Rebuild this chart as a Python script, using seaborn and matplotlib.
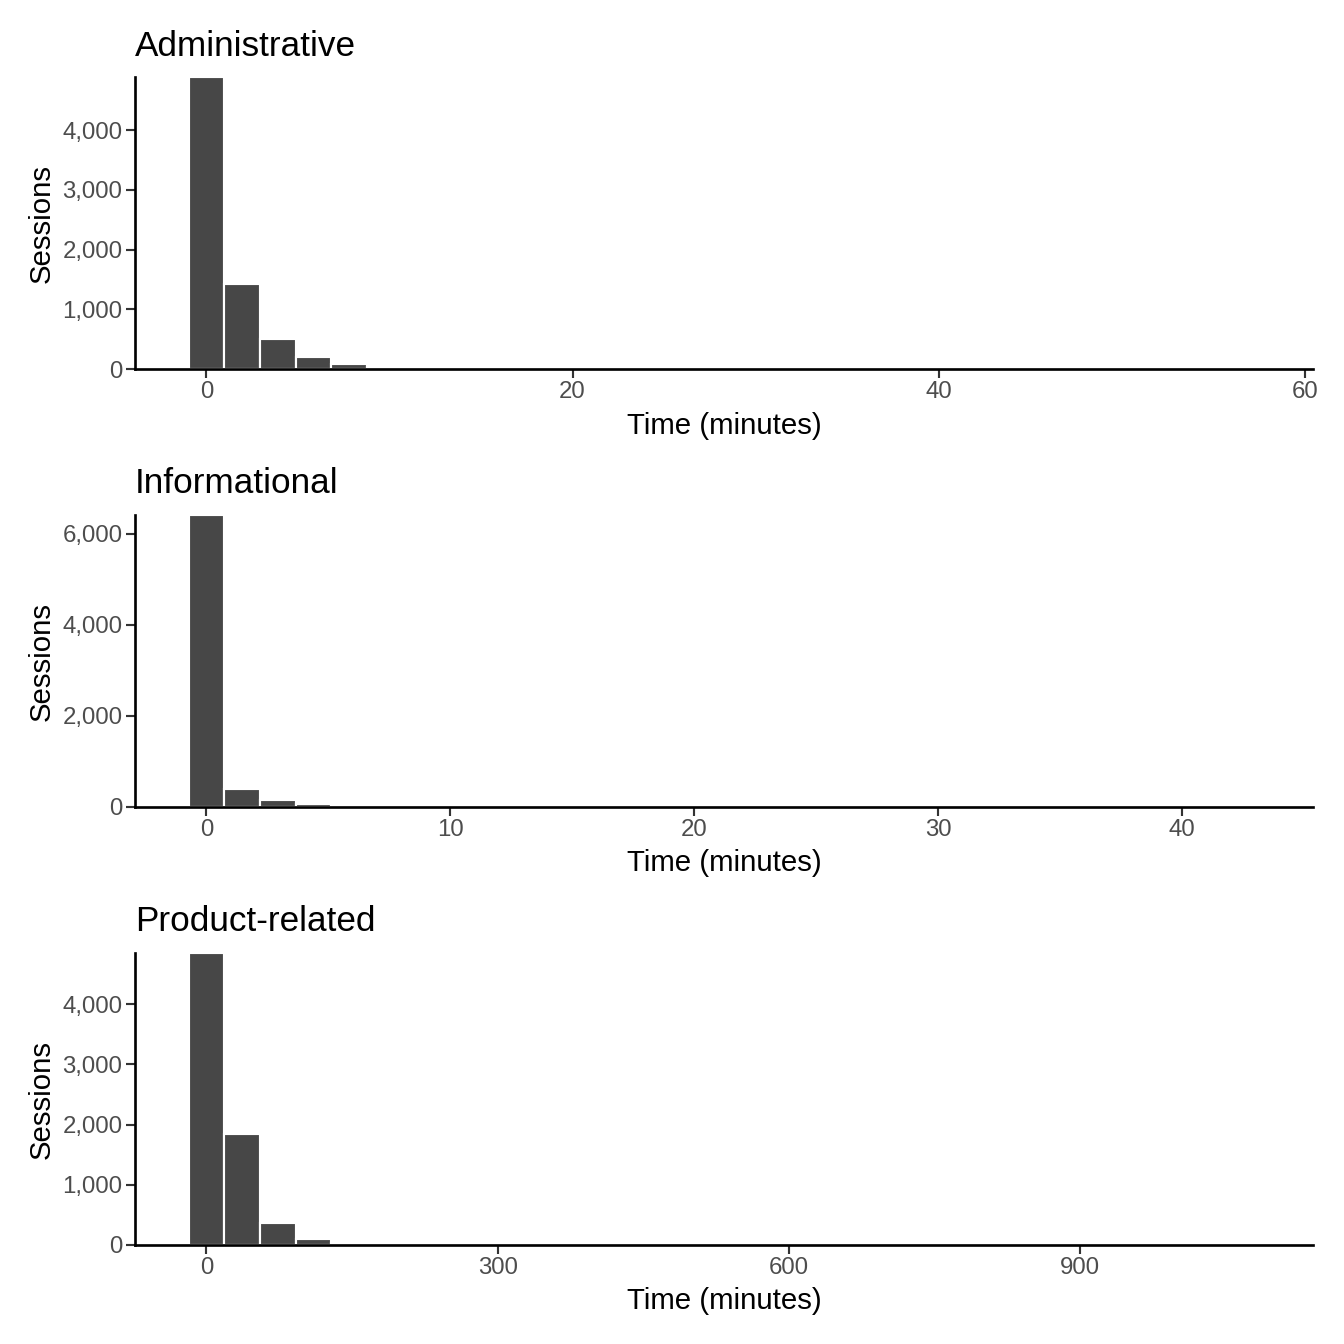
import numpy as np
import pandas as pd
import seaborn as sns
import matplotlib
matplotlib.use("Agg")
from matplotlib import pyplot as plt
from matplotlib.ticker import FuncFormatter

# page types and their histogram bin widths (minutes), 30 bins each
panel_titles = ["Administrative", "Informational", "Product-related"]
bin_widths = [1.95, 1.463, 36.76]

admin_counts = [4883, 1416, 496, 206, 84, 39, 18, 9, 5, 3, 2, 2, 1, 1, 1,
                0, 0, 1, 0, 0, 0, 0, 0, 0, 0, 0, 0, 0, 0, 1]
info_counts = [6402, 395, 154, 73, 30, 15, 8, 5, 3, 2, 1, 1, 1, 0, 1,
               0, 0, 0, 0, 0, 0, 0, 0, 0, 0, 0, 0, 0, 0, 1]
product_counts = [4845, 1845, 372, 95, 28, 10, 5, 3, 2, 1, 1, 0, 1, 0, 0,
                  0, 0, 0, 0, 0, 0, 0, 0, 0, 0, 0, 0, 0, 0, 1]
all_counts = [admin_counts, info_counts, product_counts]

x_ticks = [[0, 20, 40, 60], [0, 10, 20, 30, 40], [0, 300, 600, 900]]
y_ticks = [[0, 1000, 2000, 3000, 4000], [0, 2000, 4000, 6000],
           [0, 1000, 2000, 3000, 4000]]

sns.set_style("white")
plt.rcParams["font.family"] = ["Liberation Sans", "DejaVu Sans"]

fig = plt.figure(figsize=(7, 7), dpi=192)
bottoms = [0.7254, 0.3996, 0.0737]

for i in range(3):
    ax = fig.add_axes([0.1005, bottoms[i], 0.8764, 0.2170])
    w = bin_widths[i]
    counts = all_counts[i]
    df = pd.DataFrame({"t": np.arange(len(counts)) * w, "n": counts})
    edges = list((np.arange(len(counts) + 1) - 0.5) * w)
    sns.histplot(data=df, x="t", weights="n", bins=edges, ax=ax,
                 color="#474747", alpha=1, edgecolor="white", linewidth=0.8)
    ax.set_xlim(-2 * w, 31 * w)
    ax.set_ylim(0, max(counts))
    ax.set_xticks(x_ticks[i])
    ax.set_yticks(y_ticks[i])
    ax.yaxis.set_major_formatter(FuncFormatter(lambda v, p: f"{int(v):,}"))
    ax.tick_params(axis="both", which="major", direction="out", length=3.5,
                   width=0.8, color="#333333", labelsize=9.0,
                   labelcolor="#4D4D4D", bottom=True, left=True)
    ax.tick_params(axis="x", pad=1.0)
    ax.tick_params(axis="y", pad=1.2)
    for s in ["top", "right"]:
        ax.spines[s].set_visible(False)
    for s in ["left", "bottom"]:
        ax.spines[s].set_color("black")
        ax.spines[s].set_linewidth(1.0)
    ax.set_xlabel("Time (minutes)", fontsize=11, color="black", labelpad=3.2)
    ax.set_ylabel("Sessions", fontsize=11, color="black", labelpad=2.6)
    ax.set_title(panel_titles[i], loc="left", fontsize=13.2, color="black", pad=8.2)

plt.savefig("out.png", dpi=192)
plt.close()
